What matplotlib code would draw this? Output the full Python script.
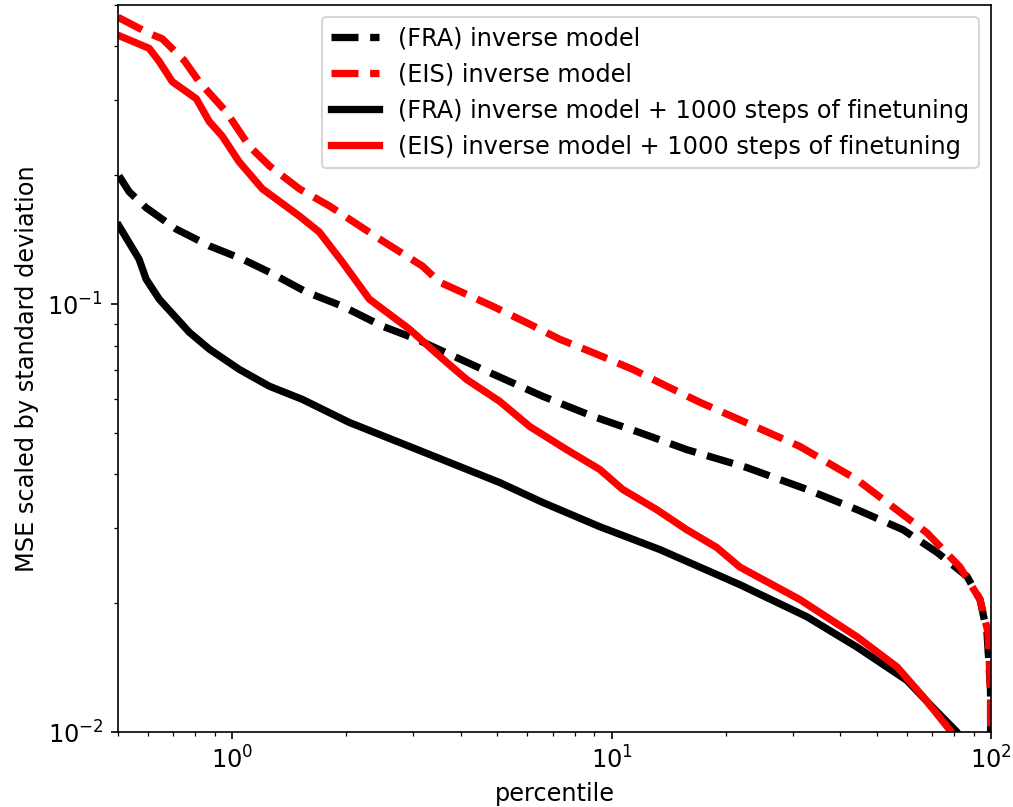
import matplotlib
matplotlib.use("Agg")
import matplotlib.pyplot as plt
import numpy as np

plt.rcParams['font.size'] = 11.5

# percentile vs. scaled MSE, per model variant
pct_fra_inv = [0.503, 0.535, 0.593, 0.711, 0.870, 1.063, 1.252, 1.568, 1.951, 2.488, 3.059,
               4.566, 6.577, 8.91, 11.86, 15.78, 22.71, 32.7, 44.31, 58.6, 72.04, 86.45,
               93.54, 97.6, 99.7, 100.0]
mse_fra_inv = [0.1994, 0.183, 0.168, 0.1498, 0.1368, 0.1274, 0.1188, 0.1067, 0.0989, 0.0888, 0.0828,
               0.0704, 0.0609, 0.0547, 0.0501, 0.0457, 0.0415, 0.0369, 0.0331, 0.0297, 0.0263, 0.0231,
               0.0204, 0.0171, 0.0125, 0.005]

pct_eis_inv = [0.50, 0.604, 0.654, 0.747, 0.818, 0.964, 1.109, 1.252, 1.502, 1.803, 2.443,
               3.172, 3.517, 4.853, 6.076, 7.293, 9.13, 11.36, 13.97, 17.06, 23.13, 31.33,
               44.31, 53.18, 67.79, 82.84, 93.54, 98.2, 99.7, 100.0]
mse_eis_inv = [0.468, 0.429, 0.417, 0.371, 0.331, 0.2815, 0.234, 0.2105, 0.186, 0.1696, 0.142,
               0.1227, 0.1126, 0.0989, 0.0898, 0.0828, 0.0764, 0.0704, 0.0643, 0.059, 0.0524, 0.0465,
               0.0389, 0.0344, 0.0292, 0.0243, 0.0204, 0.0171, 0.0125, 0.005]

pct_fra_ft = [0.503, 0.568, 0.593, 0.642, 0.770, 0.870, 1.043, 1.252, 1.53, 2.035, 2.931,
              5.064, 6.577, 9.297, 13.39, 21.77, 32.7, 44.31, 60.04, 70.31, 81.35, 83.0]
mse_fra_ft = [0.1523, 0.1274, 0.1144, 0.1027, 0.086, 0.0785, 0.0704, 0.0643, 0.0599, 0.0529, 0.0465,
              0.0383, 0.0344, 0.0302, 0.0267, 0.0221, 0.0186, 0.0158, 0.0132, 0.0114, 0.0100, 0.0095]

pct_eis_ft = [0.503, 0.604, 0.642, 0.695, 0.804, 0.870, 0.941, 1.043, 1.200, 1.502, 1.696,
              1.951, 2.298, 2.931, 3.517, 4.144, 5.064, 6.076, 7.609, 9.297, 10.69, 13.14,
              15.78, 18.92, 21.77, 31.33, 44.31, 56.49, 66.17, 77.96, 82.0]
mse_eis_ft = [0.424, 0.396, 0.369, 0.331, 0.302, 0.267, 0.247, 0.215, 0.186, 0.1607, 0.1474,
              0.1254, 0.1027, 0.0874, 0.0756, 0.0667, 0.0593, 0.0518, 0.0457, 0.0411, 0.0369, 0.0331,
              0.0297, 0.027, 0.0243, 0.0204, 0.0167, 0.0142, 0.0121, 0.0101, 0.0093]

fig = plt.figure(figsize=(1013 / 150, 807 / 150), dpi=150)
ax = fig.add_axes([0.1165, 0.0929, 0.8618, 0.9009])

lw = 3.5
ax.plot(pct_fra_inv, mse_fra_inv, '--', color='black', lw=lw, label='(FRA) inverse model')
ax.plot(pct_eis_inv, mse_eis_inv, '--', color='red', lw=lw, label='(EIS) inverse model')
ax.plot(pct_fra_ft, mse_fra_ft, '-', color='black', lw=lw,
        label='(FRA) inverse model + 1000 steps of finetuning')
ax.plot(pct_eis_ft, mse_eis_ft, '-', color='red', lw=lw,
        label='(EIS) inverse model + 1000 steps of finetuning')

ax.set_xscale('log')
ax.set_yscale('log')
ax.set_xlim(0.5, 100)
ax.set_ylim(0.01, 0.5)
ax.set_xlabel('percentile')
ax.set_ylabel('MSE scaled by standard deviation')
ax.legend(loc='upper right')

fig.savefig('out.png', dpi=150)
